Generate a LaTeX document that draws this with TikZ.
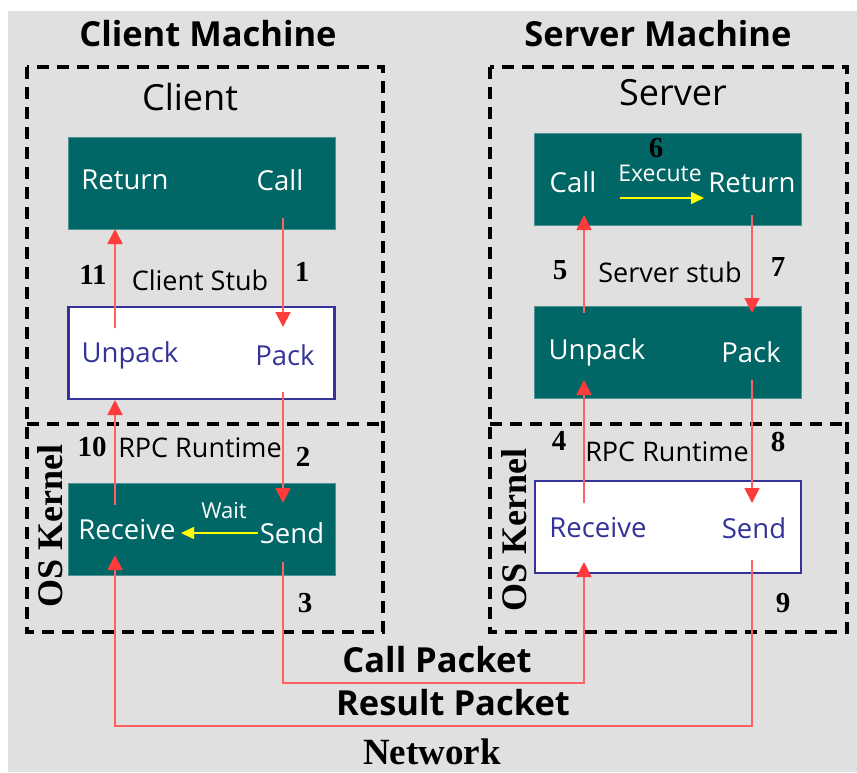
\documentclass[tikz,border=0pt]{standalone}
\usepackage{fontspec}
\setmainfont{Open Sans}
\newfontfamily\numfont{Liberation Serif}
\usetikzlibrary{arrows.meta}
\definecolor{bggray}{HTML}{E0E0E0}
\definecolor{teal}{HTML}{006666}
\definecolor{stubblue}{HTML}{333399}
\definecolor{flowred}{HTML}{FF6060}
\definecolor{headred}{HTML}{FF3B3B}
\definecolor{waityellow}{HTML}{FFFF00}
\tikzset{
  fsz/.style={font=\fontsize{#1}{#1}\selectfont},
  machine/.style={font=\fontsize{34.5}{34.5}\selectfont\bfseries},
  layer/.style={font=\fontsize{36}{36}\selectfont},
  dashbox/.style={draw=black, line width=3.2pt, dash pattern=on 12pt off 8pt},
  tealbox/.style={fill=teal, draw=teal!70!white, line width=0.8pt, minimum width=267pt, minimum height=92pt, inner sep=0pt},
  whitebox/.style={fill=white, draw=stubblue, line width=2.4pt, minimum width=266pt, minimum height=92pt, inner sep=0pt},
  wtext/.style={text=white, font=\fontsize{27.5}{27.5}\selectfont},
  btext/.style={text=stubblue, font=\fontsize{27.5}{27.5}\selectfont},
  ltext/.style={text=black, font=\fontsize{27}{27}\selectfont},
  stepnum/.style={font=\fontsize{29}{29}\numfont\bfseries},
  kernel/.style={font=\fontsize{36}{36}\numfont\bfseries, rotate=90},
  packet/.style={font=\fontsize{34.5}{34.5}\selectfont\bfseries},
  flow/.style={draw=flowred, line width=1.8pt, -{Triangle[length=15pt,width=15pt,fill=headred,color=headred]}},
  waitarrow/.style={draw=waityellow, line width=1.4pt, -{Triangle[length=13pt,width=12pt]}},
}
\begin{document}
\begin{tikzpicture}[x=1pt,y=-1pt]
\useasboundingbox (0,0) rectangle (857,772);
\fill[white] (0,0) rectangle (857,772);
\fill[bggray] (8,11) rectangle (857,772);

% machine frames
\draw[dashbox] (27,67) rectangle (383,632);
\draw[dashbox] (27,424) -- (383,424);
\draw[dashbox] (490,67) rectangle (847,632);
\draw[dashbox] (490,424) -- (847,424);

\node[machine] (cm) at (208,34) {Client Machine};
\node[machine] (sm) at (658,34) {Server Machine};
\node[layer] (cl) at (190,97) {Client};
\node[layer] (sv) at (673,93) {Server};

% client side boxes
\node[tealbox] (capp) at (201.5,183) {};
\node[whitebox] (cstub) at (201.5,353) {};
\node[tealbox] (crt) at (201.5,529) {};
% server side boxes
\node[tealbox] (sapp) at (668,179.5) {};
\node[tealbox] (sstub) at (668,352) {};
\node[whitebox] (srt) at (668,527) {};

% client texts
\node[wtext] (creturn) at (125,180) {Return};
\node[wtext] (ccall) at (280,180) {Call};
\node[btext] (cunpack) at (130,355) {Unpack};
\node[btext] (cpack) at (285,355) {Pack};
\node[wtext] (crecv) at (127,530) {Receive};
\node[wtext] (csend) at (292,533) {Send};
\node[text=white, fsz=22] (wait) at (224,511) {Wait};
\node[ltext] (cstubl) at (200,280) {Client Stub};
\node[ltext] (crtl) at (200,448) {RPC Runtime};

% server texts
\node[wtext] (scall) at (573,182) {Call};
\node[text=white, fsz=23, inner sep=0pt] (exec) at (660,173) {Execute};
\node[wtext] (sreturn) at (752,183) {Return};
\node[wtext] (sunpack) at (597,352) {Unpack};
\node[wtext] (spack) at (751,352) {Pack};
\node[btext] (srecv) at (598,528) {Receive};
\node[btext] (ssend) at (754,528) {Send};
\node[ltext] (sstubl) at (670,272) {Server stub};
\node[ltext] (srtl) at (667,452) {RPC Runtime};

% step numbers
\node[stepnum] (n1) at (302,272) {1};
\node[stepnum] (n2) at (303,457) {2};
\node[stepnum] (n3) at (305,603) {3};
\node[stepnum] (n4) at (559,441) {4};
\node[stepnum] (n5) at (560,270) {5};
\node[stepnum, inner sep=0pt] (n6) at (656,148) {6};
\node[stepnum] (n7) at (778,267) {7};
\node[stepnum] (n8) at (778,442) {8};
\node[stepnum] (n9) at (783,603) {9};
\node[stepnum] (n10) at (92,447) {10};
\node[stepnum] (n11) at (93,275) {11};

\node[kernel] (ck) at (50,526) {OS Kernel};
\node[kernel] (sk) at (514,530) {OS Kernel};

\node[packet] (callp) at (437,660) {Call Packet};
\node[packet] (resp) at (453,703) {Result Packet};
\node[font=\fontsize{37}{37}\numfont\bfseries, anchor=base, inner sep=0pt] (net) at (432,764) {Network};

% flow anchor points
\coordinate (c1a) at (283,218);  \coordinate (c1b) at (283,327);
\coordinate (c2a) at (283,392);  \coordinate (c2b) at (283,503);
\coordinate (c3a) at (283,562);  \coordinate (c3b) at (283,683);
\coordinate (s4a) at (584,683);  \coordinate (s4b) at (584,562);
\coordinate (s4c) at (584,503);  \coordinate (s4d) at (584,380);
\coordinate (s5a) at (584,313);  \coordinate (s5b) at (584,215);
\coordinate (s7a) at (752,215);  \coordinate (s7b) at (752,313);
\coordinate (s8a) at (752,380);  \coordinate (s8b) at (752,503);
\coordinate (s9a) at (752,560);  \coordinate (s9b) at (752,726);
\coordinate (c10a) at (115,726); \coordinate (c10b) at (115,555);
\coordinate (c10c) at (115,505); \coordinate (c10d) at (115,400);
\coordinate (c11a) at (115,328); \coordinate (c11b) at (115,229);
\coordinate (ea) at (620,198);   \coordinate (eb) at (704,198);
\coordinate (wa) at (258,533);   \coordinate (wb) at (181,533);

% call path
\draw[flow] (c1a) -- (c1b);
\draw[flow] (c2a) -- (c2b);
\draw[flow] (c3a) -- (c3b) -- (s4a) -- (s4b);
\draw[flow] (s4c) -- (s4d);
\draw[flow] (s5a) -- (s5b);
% return path
\draw[flow] (s7a) -- (s7b);
\draw[flow] (s8a) -- (s8b);
\draw[flow] (s9a) -- (s9b) -- (c10a) -- (c10b);
\draw[flow] (c10c) -- (c10d);
\draw[flow] (c11a) -- (c11b);

\draw[waitarrow] (ea) -- (eb);
\draw[waitarrow] (wa) -- (wb);
\end{tikzpicture}
\end{document}
